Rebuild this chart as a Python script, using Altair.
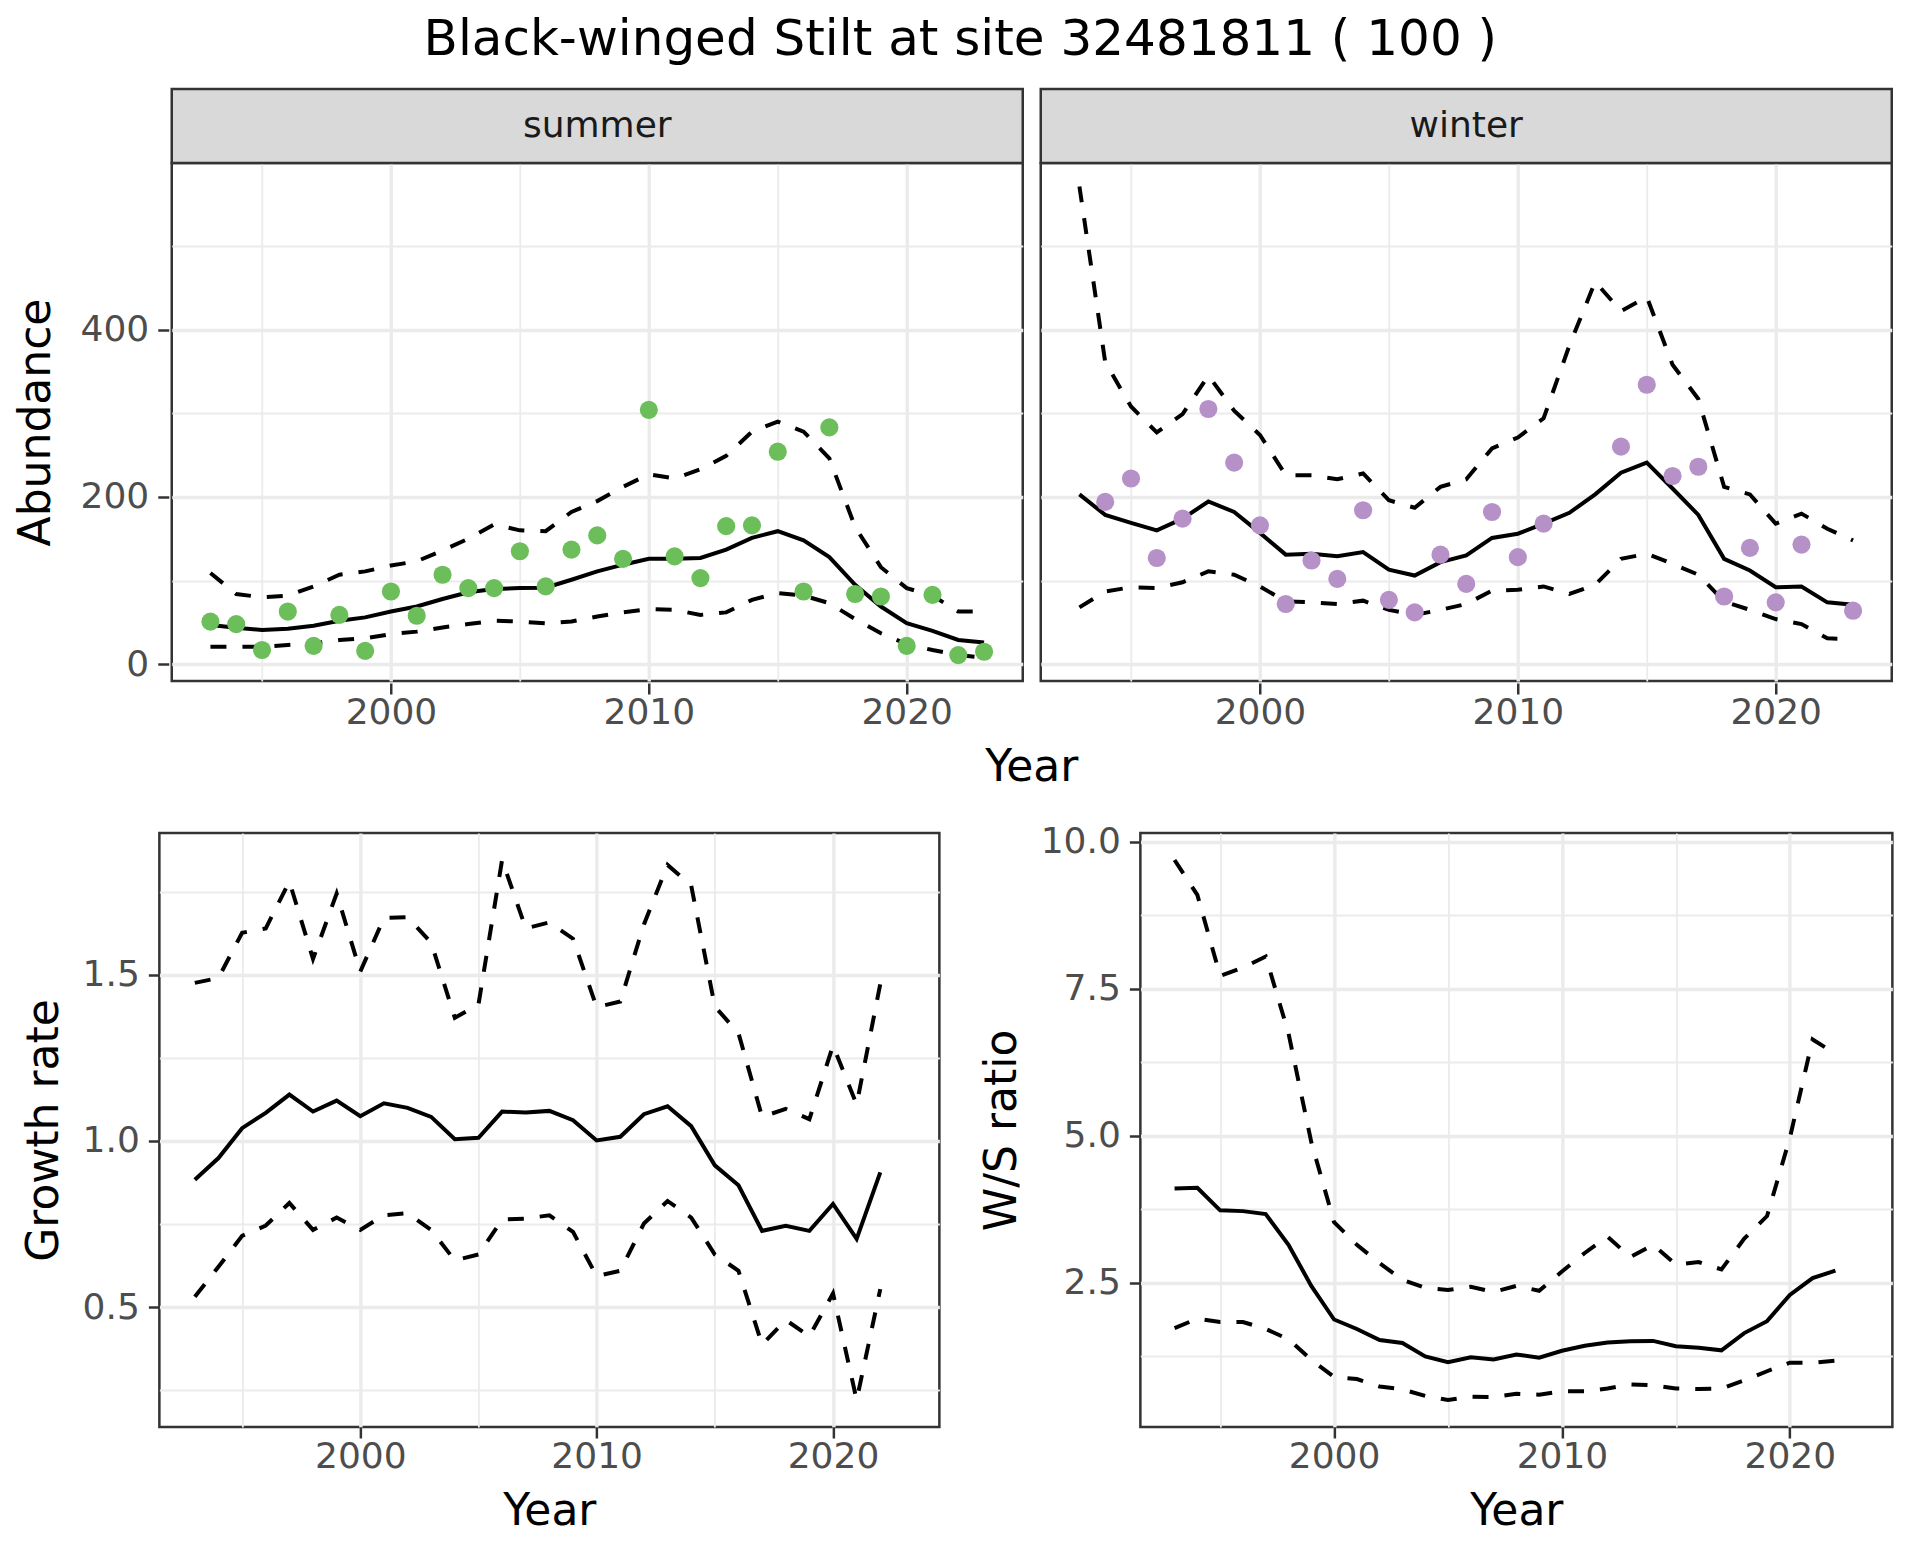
import altair as alt
import pandas as pd

FONT = "DejaVu Sans"

years = list(range(1993, 2024))
gr_years = list(range(1993, 2023))

summer_obs = [51, 48, 17, 63, 22, 59, 16, 87, 58, 107, 91, 91, 135, 93, 137, 154, 126, 304,
              129, 103, 165, 166, 254, 87, 283, 84, 81, 22, 83, 11, 15]
summer_mean = [47, 43.5, 41, 42.5, 46, 52, 56, 63, 69, 78, 86, 90, 91, 91.5, 101, 111, 119, 126,
               126, 127, 137, 151, 159, 148, 128, 95, 69, 49, 40, 29, 26]
summer_hi = [109, 84, 80, 82, 93, 107, 111, 118, 123, 136, 150, 167, 160, 159, 182, 195, 212, 227,
             222, 233, 249, 278, 290, 278, 246, 164, 116, 91, 82, 63, 63]
summer_lo = [21, 21, 21, 23, 25, 29, 31, 36, 39, 44, 48, 52, 51, 49, 51, 57, 62, 66,
             65, 59, 62, 77, 85, 82, 73, 54, 37, 24, 17, 11, 8]

winter_obs = [None, 194, 222, 127, 174, 305, 241, 166, 72, 124, 102, 184, 77, 62, 131, 96, 182, 128,
              168, None, None, 260, 334, 225, 236, 81, 139, 74, 143, None, 64]
winter_mean = [203, 178.5, 169, 160, 174, 194.5, 182, 157, 131, 132, 129, 134, 113, 106, 122, 130,
               151, 156, 168, 181, 203, 229, 241, 210, 178.5, 126, 112, 92, 93, 74, 71]
winter_hi = [571, 361, 308, 277, 299, 345, 303, 274, 226, 226, 221, 228, 196, 187, 212, 221,
             258, 271, 294, 381, 457, 422, 439, 358, 317, 212, 203, 168, 180, 162, 148]
winter_lo = [68, 87, 92, 91, 98, 111, 107, 93, 75, 74, 72, 76, 65, 59, 65, 72,
             88, 89, 93, 84, 95, 126, 132, 120, 107, 75, 65, 54, 48, 31, 30]

gr_mean = [0.883, 0.948, 1.038, 1.084, 1.139, 1.088, 1.121, 1.074, 1.113, 1.099, 1.072, 1.005,
           1.009, 1.088, 1.085, 1.090, 1.062, 1.001, 1.012, 1.080, 1.104, 1.044, 0.926, 0.866,
           0.729, 0.744, 0.729, 0.810, 0.705, 0.905]
gr_hi = [1.475, 1.49, 1.626, 1.639, 1.78, 1.547, 1.744, 1.509, 1.67, 1.673, 1.596, 1.37,
         1.41, 1.845, 1.639, 1.657, 1.608, 1.402, 1.419, 1.651, 1.83, 1.768, 1.404, 1.324,
         1.072, 1.096, 1.065, 1.287, 1.109, 1.472]
gr_lo = [0.531, 0.621, 0.714, 0.745, 0.813, 0.732, 0.769, 0.732, 0.776, 0.782, 0.732, 0.64,
         0.658, 0.763, 0.766, 0.776, 0.726, 0.593, 0.609, 0.751, 0.819, 0.769, 0.658, 0.609,
         0.387, 0.461, 0.412, 0.541, 0.22, 0.554]

ws_mean = [4.099, 4.113, 3.729, 3.715, 3.666, 3.142, 2.444, 1.872, 1.711, 1.522, 1.473, 1.243,
           1.145, 1.229, 1.194, 1.278, 1.222, 1.341, 1.425, 1.48, 1.501, 1.508, 1.418, 1.39,
           1.348, 1.641, 1.844, 2.29, 2.577, 2.703]
ws_hi = [9.686, 9.092, 7.717, 7.856, 8.045, 6.739, 4.888, 3.527, 3.142, 2.828, 2.549, 2.409,
         2.374, 2.43, 2.339, 2.444, 2.36, 2.689, 3.003, 3.282, 2.933, 3.142, 2.807, 2.849,
         2.723, 3.247, 3.631, 4.958, 6.634, 6.39]
ws_lo = [1.725, 1.886, 1.83, 1.83, 1.711, 1.536, 1.187, 0.894, 0.859, 0.733, 0.684, 0.573,
         0.503, 0.559, 0.552, 0.608, 0.594, 0.65, 0.65, 0.698, 0.768, 0.754, 0.698, 0.691,
         0.698, 0.838, 0.992, 1.138, 1.138, 1.173]

seasons = ["summer", "winter"]
season_colors = ["#6CBE5A", "#B591C8"]

x_ticks = [1995, 2000, 2005, 2010, 2015, 2020]
abund_ticks = [0, 100, 200, 300, 400, 500]
gr_ticks = [0.25, 0.5, 0.75, 1.0, 1.25, 1.5, 1.75]
ws_ticks = [1.25, 2.5, 3.75, 5.0, 6.25, 7.5, 8.75, 10.0]

top_df = pd.concat([
    pd.DataFrame({"season": "summer", "year": years, "obs": summer_obs, "mean": summer_mean,
                  "lo": summer_lo, "hi": summer_hi}),
    pd.DataFrame({"season": "winter", "year": years, "obs": winter_obs, "mean": winter_mean,
                  "lo": winter_lo, "hi": winter_hi}),
], ignore_index=True)
gr_df = pd.DataFrame({"year": gr_years, "mean": gr_mean, "lo": gr_lo, "hi": gr_hi})
ws_df = pd.DataFrame({"year": gr_years, "mean": ws_mean, "lo": ws_lo, "hi": ws_hi})

MAJOR_W, MINOR_W = 3.4, 1.8
LINE_W = 4
DASH = [16, 16]


def cond(test, a, b):
    return {"condition": {"test": test, "value": a}, "value": b}


def x_axis(title):
    t = "datum.value % 10 === 0"
    kw = dict(values=x_ticks, format="d",
              labelExpr="datum.value % 10 === 0 ? datum.label : ''",
              gridWidth=cond(t, MAJOR_W, MINOR_W),
              tickOpacity=cond(t, 1, 0))
    kw["title"] = title if title else None
    return alt.Axis(**kw)


def y_axis(values, test, title, fmt, title_pad=16):
    return alt.Axis(values=values, format=fmt, title=title, titlePadding=title_pad,
                    labelExpr="(%s) ? datum.label : ''" % test,
                    gridWidth=cond(test, MAJOR_W, MINOR_W),
                    tickOpacity=cond(test, 1, 0))


xscale = alt.Scale(domain=[1991.5, 2024.5], nice=False, zero=False)

# ---- top row (faceted abundance) ----
TW, TH = 851, 518
STRIP_H = 74
abund_scale = alt.Scale(domain=[-20, 599], nice=False, zero=False)
ax_y_top = y_axis(abund_ticks, "datum.value % 200 === 0", "Abundance", "d", title_pad=22)

base_top = alt.Chart().encode(x=alt.X("year:Q", scale=xscale, axis=x_axis(None)))
pts = base_top.mark_circle(size=330, opacity=1).encode(
    y=alt.Y("obs:Q", scale=abund_scale, axis=ax_y_top),
    color=alt.Color("season:N", scale=alt.Scale(domain=seasons, range=season_colors), legend=None),
)
mean_line = base_top.mark_line(color="black", strokeWidth=LINE_W).encode(y="mean:Q")
hi_line = base_top.mark_line(color="black", strokeWidth=LINE_W, strokeDash=DASH).encode(y="hi:Q")
lo_line = base_top.mark_line(color="black", strokeWidth=LINE_W, strokeDash=DASH).encode(y="lo:Q")
strip_rect = alt.Chart().mark_rect(fill="#D9D9D9", stroke="#333333", strokeWidth=2.5).encode(
    x=alt.value(0), x2=alt.value(TW), y=alt.value(-STRIP_H), y2=alt.value(0)
).transform_filter("datum.year == 1993")
strip_text = alt.Chart().mark_text(font=FONT, fontSize=36, color="#1A1A1A", baseline="middle").encode(
    x=alt.value(TW / 2), y=alt.value(-STRIP_H / 2), text="season:N"
).transform_filter("datum.year == 1993")

top = alt.layer(lo_line, hi_line, mean_line, pts, strip_rect, strip_text, data=top_df).properties(
    width=TW, height=TH
).facet(
    column=alt.Column("season:N", header=alt.Header(
        labels=False, title="Year", titleOrient="bottom", titleFont=FONT, titleFontSize=44,
        titleColor="black", titleFontWeight="normal", titlePadding=6)),
    spacing=12,
)

# ---- bottom row ----
BH = 594
WS_W = 752
gr_scale = alt.Scale(domain=[0.139, 1.926], nice=False, zero=False)
ws_scale = alt.Scale(domain=[0.044, 10.145], nice=False, zero=False)


def band_chart(df, scale, axis, width, extra=None):
    b = alt.Chart(df).encode(x=alt.X("year:Q", scale=xscale, axis=x_axis("Year")))
    m = b.mark_line(color="black", strokeWidth=LINE_W).encode(y=alt.Y("mean:Q", scale=scale, axis=axis))
    h = b.mark_line(color="black", strokeWidth=LINE_W, strokeDash=DASH).encode(y="hi:Q")
    l = b.mark_line(color="black", strokeWidth=LINE_W, strokeDash=DASH).encode(y="lo:Q")
    layers = [l, h, m]
    if extra is not None:
        layers.append(extra)
    return alt.layer(*layers).properties(width=width, height=BH)


# invisible rule that only widens the layout box on the right, so both rows share one width
spacer = alt.Chart(ws_df).mark_rule(strokeOpacity=0, strokeWidth=1).encode(
    x=alt.value(WS_W + 13), y=alt.value(0), y2=alt.value(10)
).transform_filter("datum.year == 1993")

gr_chart = band_chart(gr_df, gr_scale,
                      y_axis(gr_ticks, "abs(datum.value*2 - round(datum.value*2)) < 1e-6", "Growth rate", ".1f"),
                      780)
ws_chart = band_chart(ws_df, ws_scale,
                      y_axis(ws_ticks, "abs(datum.value/2.5 - round(datum.value/2.5)) < 1e-6", "W/S ratio", ".1f"),
                      WS_W, extra=spacer)

bottom = alt.hconcat(gr_chart, ws_chart, spacing=37)

chart = alt.vconcat(top, bottom, spacing=32, center=True).properties(
    title=alt.TitleParams("Black-winged Stilt at site 32481811 ( 100 )", font=FONT, fontSize=50,
                          fontWeight="normal", color="black", anchor="middle", offset=22),
    padding={"left": 6, "top": 6, "right": 0, "bottom": 0},
).configure_view(
    stroke="#333333", strokeWidth=2.5
).configure_axis(
    labelFont=FONT, labelFontSize=36, labelColor="#4D4D4D",
    titleFont=FONT, titleFontSize=44, titleColor="black", titleFontWeight="normal",
    tickColor="#333333", tickWidth=2.5, tickSize=11,
    domain=False, gridColor="#EBEBEB",
).configure_axisY(labelPadding=9).configure_axisX(labelPadding=1, titlePadding=15)

chart.save("out.html", embed_options={"renderer": "svg", "actions": False})
